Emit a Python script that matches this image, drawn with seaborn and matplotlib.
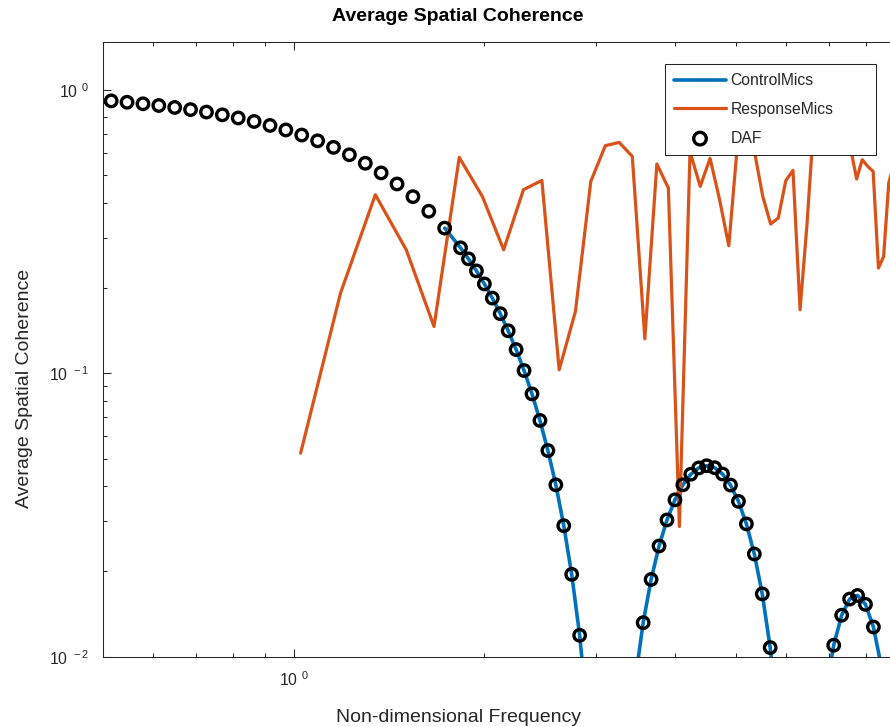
import numpy as np
import pandas as pd
import matplotlib
matplotlib.use("Agg")
import matplotlib.pyplot as plt
import seaborn as sns
from matplotlib.ticker import FixedLocator, FixedFormatter, LogLocator, NullFormatter

# ---------------- data ----------------
control_x = [1.7308, 1.8337, 1.8875, 1.9428, 1.9997, 2.0582, 2.1185, 2.1806, 2.2445,
             2.3103, 2.3780, 2.4478, 2.5194, 2.5933, 2.6693, 2.7475, 2.8280, 2.9109,
             2.9962, 3.0839, 3.1743, 3.2674, 3.3630, 3.4616, 3.5630, 3.6674, 3.7750,
             3.8855, 3.9995, 4.1165, 4.2371, 4.3613, 4.4891, 4.6206, 4.7561, 4.8956,
             5.0389, 5.1866, 5.3386, 5.4949, 5.6559, 5.8218, 5.9924, 6.1679, 6.3486,
             6.5347, 6.7261, 6.9232, 7.1261, 7.3349, 7.5500, 7.7711, 7.9990, 8.2330,
             8.474, 8.722, 8.978]
control_y = [0.3254, 0.2773, 0.2535, 0.2299, 0.2068, 0.1843, 0.1624, 0.1413, 0.1213,
             0.1023, 0.0846, 0.0682, 0.0534, 0.0404, 0.0290, 0.01953, 0.01190, 0.00617,
             0.00234, 0.00035, 0.00011, 0.00148, 0.00426, 0.00826, 0.01318, 0.01873, 0.02458,
             0.03038, 0.03577, 0.04042, 0.04404, 0.04636, 0.04719, 0.04645, 0.04412, 0.04034,
             0.03533, 0.02942, 0.02304, 0.01666, 0.01077, 0.00585, 0.00229, 0.00035, 0.00011,
             0.00145, 0.00406, 0.00744, 0.01098, 0.01401, 0.01597, 0.01645, 0.01530, 0.01273,
             0.00923, 0.00549, 0.00232]

response_x = [1.025, 1.185, 1.345, 1.505, 1.665, 1.825, 1.985, 2.145, 2.305, 2.465,
              2.625, 2.785, 2.945, 3.105, 3.265, 3.425, 3.585, 3.745, 3.905, 4.065,
              4.225, 4.385, 4.545, 4.705, 4.865, 5.025, 5.185, 5.345, 5.505, 5.665,
              5.825, 5.985, 6.145, 6.305, 6.465, 6.625, 6.785, 6.945, 7.105, 7.265,
              7.425, 7.585, 7.745, 7.905, 8.065, 8.225, 8.385, 8.545, 8.705, 8.865, 9.025]
response_y = [0.0523, 0.1919, 0.4269, 0.2729, 0.1463, 0.5781, 0.4210, 0.2729, 0.4446, 0.4795,
              0.1029, 0.1653, 0.4756, 0.6358, 0.6531, 0.5828, 0.1323, 0.5480, 0.4508, 0.0288,
              0.6055, 0.4567, 0.5735, 0.4100, 0.2819, 0.6568, 0.8181, 0.6007, 0.4210, 0.3364,
              0.3532, 0.4783, 0.5201, 0.1676, 0.3345, 0.7543, 0.6677, 0.8519, 0.7243, 0.9242,
              0.6955, 0.6155, 0.4850, 0.5674, 0.5374, 0.5159, 0.2352, 0.2585, 0.4693, 0.55, 0.50]

daf_x = [0.5146, 0.5451, 0.5776, 0.6119, 0.6483, 0.6868, 0.7277, 0.7709, 0.8168, 0.8654,
         0.9169, 0.9713, 1.0291, 1.0903, 1.1551, 1.2238, 1.2967, 1.3737, 1.4554, 1.5420,
         1.6336, 1.7308,
         1.8337, 1.8875, 1.9428, 1.9997, 2.0582, 2.1185, 2.1806, 2.2445, 2.3103, 2.3780,
         2.4478, 2.5194, 2.5933, 2.6693, 2.7475, 2.8280,
         3.5630, 3.6674, 3.7750, 3.8855, 3.9995, 4.1165, 4.2371, 4.3613, 4.4891, 4.6206,
         4.7561, 4.8956, 5.0389, 5.1866, 5.3386, 5.4949, 5.6559,
         7.1261, 7.3349, 7.5500, 7.7711, 7.9990, 8.2330]
daf_y = [0.9148, 0.9048, 0.8936, 0.8812, 0.8675, 0.8523, 0.8355, 0.8169, 0.7965, 0.7740,
         0.7494, 0.7225, 0.6932, 0.6615, 0.6272, 0.5905, 0.5512, 0.5096, 0.4658, 0.4202,
         0.3732, 0.3254,
         0.2773, 0.2535, 0.2299, 0.2068, 0.1843, 0.1624, 0.1413, 0.1213, 0.1023, 0.0846,
         0.0682, 0.0534, 0.0404, 0.0290, 0.01953, 0.01190,
         0.01318, 0.01873, 0.02458, 0.03038, 0.03577, 0.04042, 0.04404, 0.04636, 0.04719, 0.04645,
         0.04412, 0.04034, 0.03533, 0.02942, 0.02304, 0.01666, 0.01077,
         0.01098, 0.01401, 0.01597, 0.01645, 0.01530, 0.01273]

series_labels = ["ControlMics", "ResponseMics", "DAF"]
x_ticks = [1.0]
x_tick_labels = [r"$10^{\;\;0}$"]
y_ticks = [0.01, 0.1, 1.0]
y_tick_labels = [r"$10^{\;\;-2}$", r"$10^{\;\;-1}$", r"$10^{\;\;0}$"]
title_text = "Average Spatial Coherence"
x_label = "Non-dimensional Frequency"
y_label = "Average Spatial Coherence"

# ---------------- styling ----------------
sns.set_style("white")
plt.rcParams["font.family"] = ["Liberation Sans", "DejaVu Sans"]
plt.rcParams["mathtext.fontset"] = "custom"
plt.rcParams["mathtext.rm"] = "Liberation Sans"
plt.rcParams["mathtext.it"] = "Liberation Sans:italic"
plt.rcParams["mathtext.default"] = "regular"

DARK = "#262626"
BLUE = "#0072BD"
ORANGE = "#D95319"

W, H = 890, 727
fig = plt.figure(figsize=(W / 100, H / 100), dpi=100)
ax_left, ax_right, ax_top, ax_bottom = 103.3, 897.9, 41.7, 656.7
ax = fig.add_axes([ax_left / W, (H - ax_bottom) / H,
                   (ax_right - ax_left) / W, (ax_bottom - ax_top) / H])
ax.set_xscale("log")
ax.set_yscale("log")

df_control = pd.DataFrame({"x": control_x, "y": control_y})
df_response = pd.DataFrame({"x": response_x, "y": response_y})
df_daf = pd.DataFrame({"x": daf_x, "y": daf_y})

sns.lineplot(data=df_control, x="x", y="y", ax=ax, color=BLUE, linewidth=2.6,
             label=series_labels[0], sort=False, estimator=None)
sns.lineplot(data=df_response, x="x", y="y", ax=ax, color=ORANGE, linewidth=2.3,
             label=series_labels[1], sort=False, estimator=None)
sns.scatterplot(data=df_daf, x="x", y="y", ax=ax, marker="o", s=68,
                facecolor="none", edgecolor="black", linewidth=2.4,
                label=series_labels[2], zorder=3)

ax.set_xlim(0.5, 9.0)
ax.set_ylim(0.01, 1.48)

ax.xaxis.set_major_locator(FixedLocator(x_ticks))
ax.xaxis.set_major_formatter(FixedFormatter(x_tick_labels))
ax.yaxis.set_major_locator(FixedLocator(y_ticks))
ax.yaxis.set_major_formatter(FixedFormatter(y_tick_labels))
for axis in (ax.xaxis, ax.yaxis):
    axis.set_minor_locator(LogLocator(base=10, subs=np.arange(2, 10) * 1.0, numticks=50))
    axis.set_minor_formatter(NullFormatter())

ax.tick_params(which="both", direction="in", top=True, right=True, bottom=True, left=True,
               colors=DARK, labelcolor=DARK, width=0.75)
ax.tick_params(which="major", length=6, labelsize=11.3, pad=10)
ax.tick_params(which="minor", length=3.2)
ax.tick_params(axis="y", which="major", pad=10)
for sp in ax.spines.values():
    sp.set_color(DARK)
    sp.set_linewidth(0.75)
    sp.set_visible(True)

ax.set_xlabel(x_label, fontsize=14, color=DARK, va="center")
ax.xaxis.set_label_coords((458 - ax_left) / (ax_right - ax_left),
                          (ax_bottom - 717.5) / (ax_bottom - ax_top))
ax.set_ylabel(y_label, fontsize=14, color=DARK, va="center", ha="center")
ax.yaxis.set_label_coords((25 - ax_left) / (ax_right - ax_left),
                          (ax_bottom - 388) / (ax_bottom - ax_top))
ax.set_title(title_text, fontsize=14, fontweight="bold", color="black", pad=0,
             x=(457.8 - ax_left) / (ax_right - ax_left),
             y=(ax_bottom - 16.5) / (ax_bottom - ax_top), va="center")

leg = ax.legend(loc="upper left",
                bbox_to_anchor=(665 / W, (H - 156.7) / H, 211 / W, 92.7 / H),
                bbox_transform=fig.transFigure, mode="expand", borderaxespad=0,
                fontsize=11.3, handlelength=3.3, handletextpad=0.3, borderpad=0.58,
                labelspacing=0.88, frameon=True, fancybox=False, framealpha=1,
                edgecolor=DARK, facecolor="white", scatterpoints=1, markerscale=1.1)
leg.get_frame().set_linewidth(0.75)
for t in leg.get_texts():
    t.set_color(DARK)

fig.savefig("out.png", dpi=100)
